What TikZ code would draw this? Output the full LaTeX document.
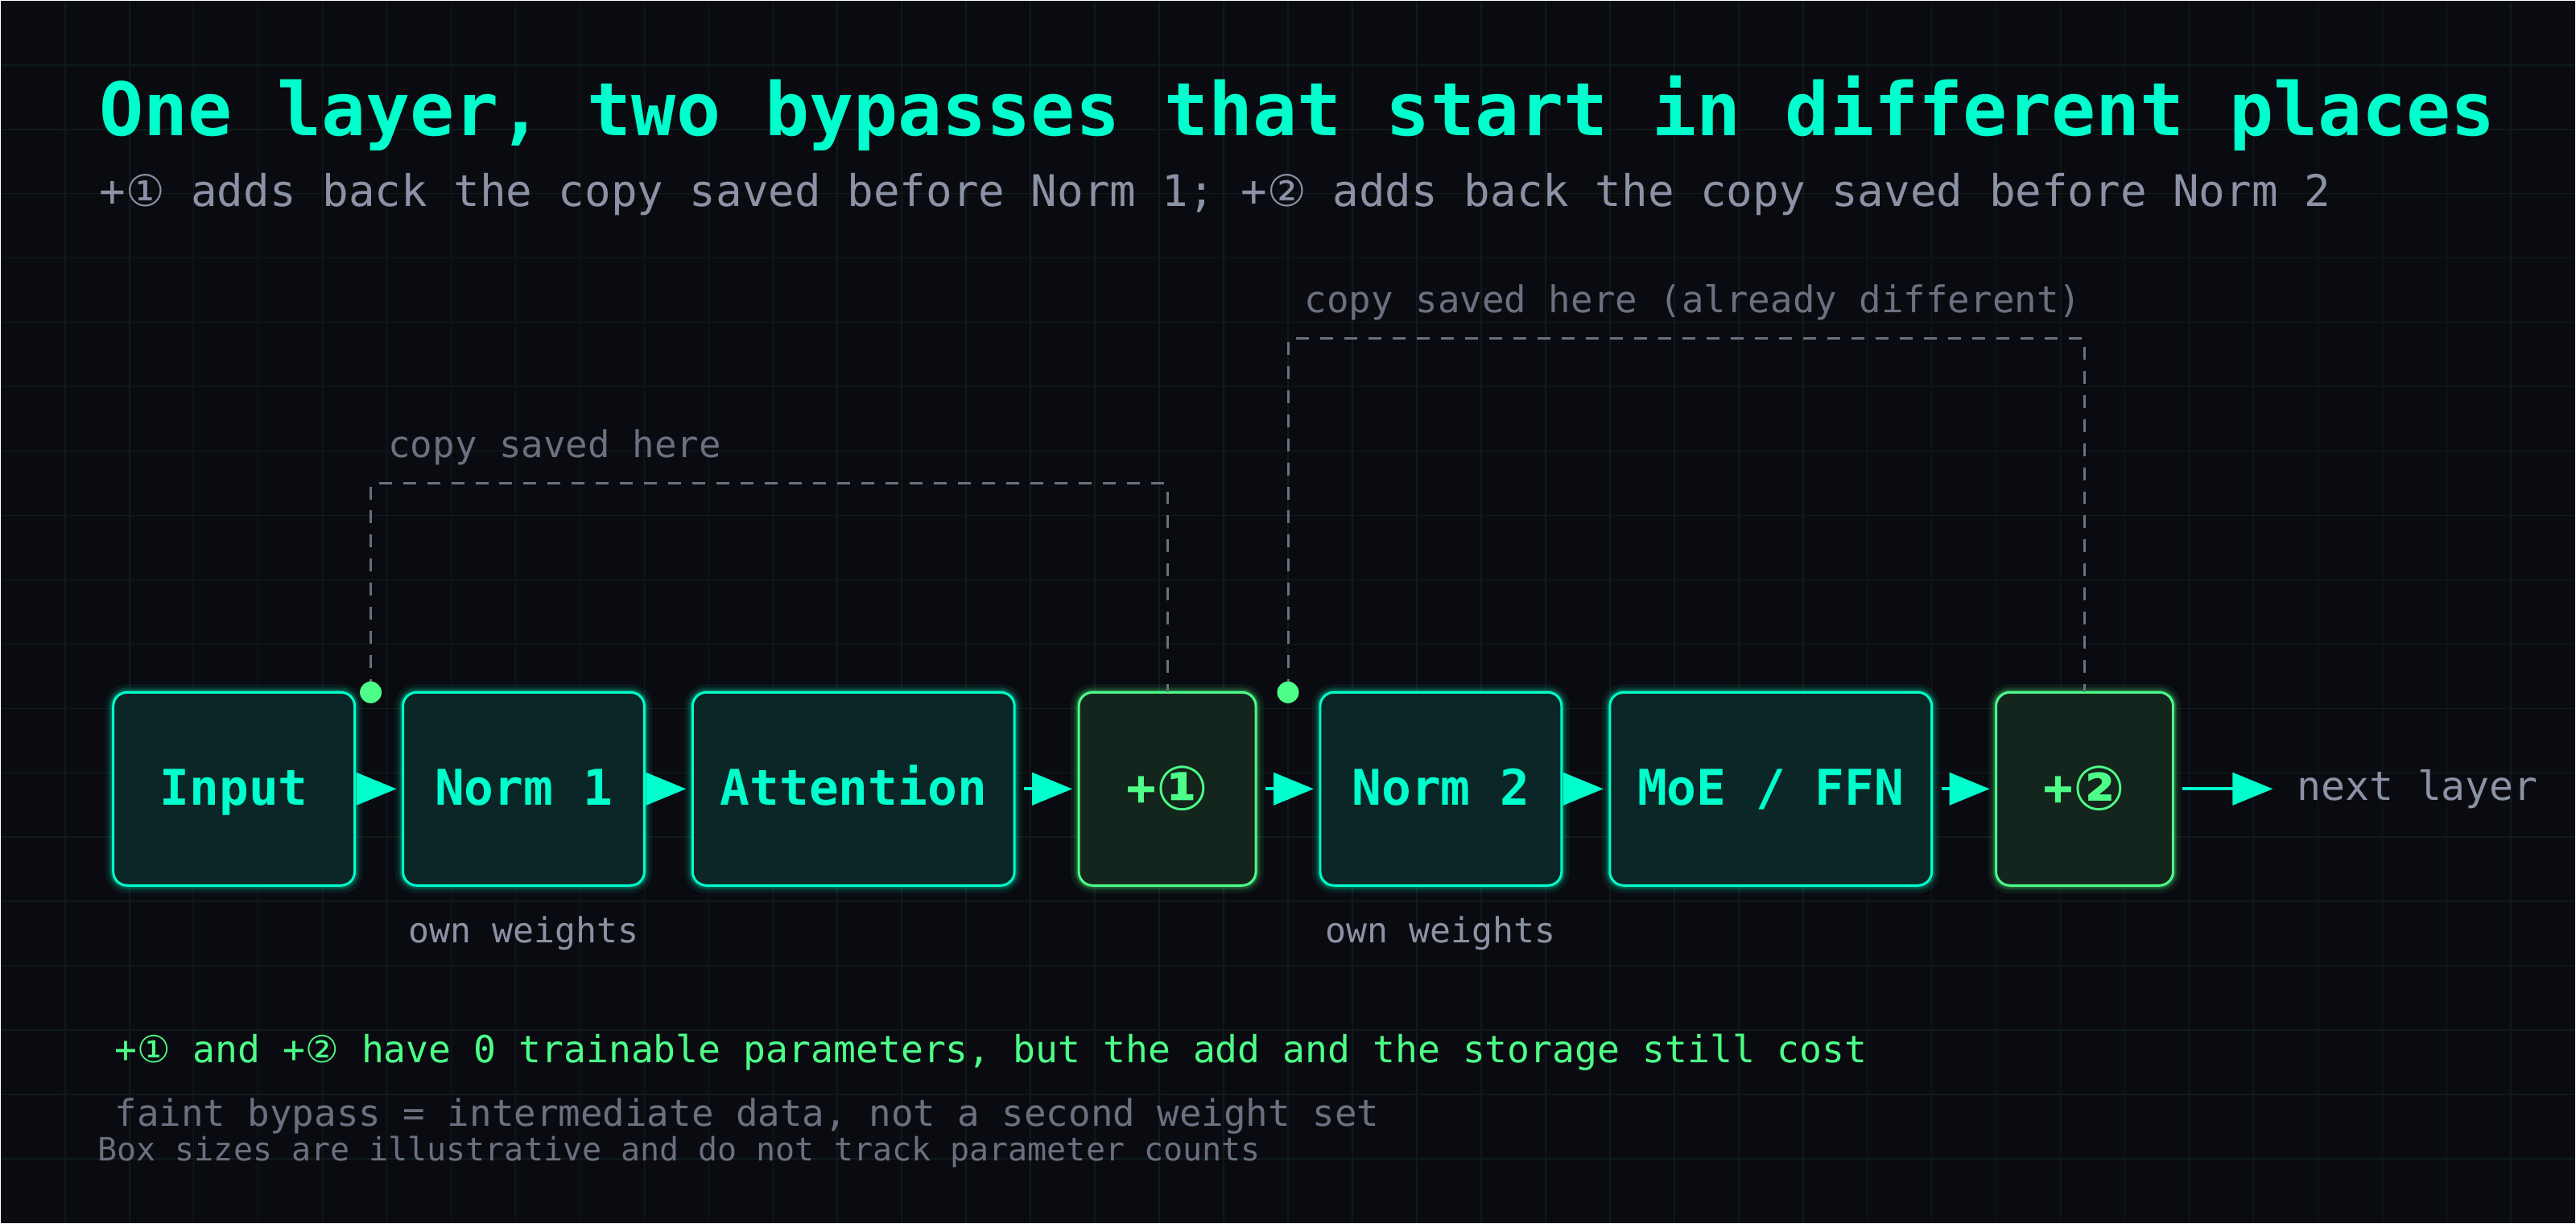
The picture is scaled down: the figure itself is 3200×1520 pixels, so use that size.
\documentclass[tikz,border=0pt]{standalone}
\usepackage{fontspec}
\setmainfont{DejaVu Sans Mono}
\newfontfamily\circfont{DejaVu Sans}
\usepackage{graphicx}
\usepackage{tikz}
\usetikzlibrary{calc}
\usetikzlibrary{positioning, arrows.meta}
\definecolor{bgdark}{HTML}{0A0B10}
\definecolor{gridteal}{HTML}{0E1B1B}
\definecolor{aqua}{HTML}{00FFCC}
\definecolor{mint}{HTML}{4DFF88}
\definecolor{aquafill}{HTML}{0B2626}
\definecolor{mintfill}{HTML}{13251C}
\definecolor{slate}{HTML}{8B92A5}
\definecolor{dimgray}{HTML}{6B7080}
\newcommand{\cone}{{\circfont ①}}
\newcommand{\ctwo}{{\circfont ②}}
\newcommand{\bigcone}{\raisebox{-0.1em}{\scalebox{1.25}{\cone}}}
\newcommand{\bigctwo}{\raisebox{-0.1em}{\scalebox{1.25}{\ctwo}}}

\begin{document}
\begin{tikzpicture}[x=0.25pt, y=-0.25pt,
			blockStyle/.style={rounded corners=4.25pt, line width=0.75pt, minimum height=60pt, inner sep=0pt, outer sep=0pt, align=center, text height=12pt, text depth=2pt, font=\fontsize{15.3pt}{18pt}\selectfont\bfseries},
			block/.style={blockStyle, draw=aqua, fill=aquafill, text=aqua, preaction={draw=aqua, line width=5pt, draw opacity=0.07}, preaction={draw=aqua, line width=3pt, draw opacity=0.12}, preaction={draw=aqua, line width=1.8pt, draw opacity=0.2}},
			addBlock/.style={blockStyle, draw=mint, fill=mintfill, text=mint, minimum width=55pt, preaction={draw=mint, line width=5pt, draw opacity=0.07}, preaction={draw=mint, line width=3pt, draw opacity=0.12}, preaction={draw=mint, line width=1.8pt, draw opacity=0.2}},
			flow/.style={-{Triangle[length=12.5pt, width=10pt]}, line width=1pt, aqua, shorten <=3pt, shorten >=2pt},
			bypass/.style={dimgray, line width=0.75pt, dash pattern=on 4pt off 3.5pt},
			saveDot/.style={circle, fill=mint, minimum size=6.75pt, inner sep=0pt},
			gridLine/.style={gridteal, line width=0.4pt},
			noteStyle/.style={inner sep=0pt, text=slate},]
			
			\fill[bgdark] (0,0) rectangle (3200,1520);
			\foreach \gx in {80,160,...,3120}
			\draw[gridLine] (\gx,0) -- (\gx,1520);
			\foreach \gy in {80,160,...,1440}
			\draw[gridLine] (0,\gy) -- (3200,\gy);
			
			% title
			\node[anchor=base west, inner sep=0pt, text=aqua, font=\fontsize{22.9pt}{26pt}\selectfont\bfseries] (title) at (122,168) {One layer, two bypasses that start in different places};
			\node[anchor=base west, noteStyle, font=\fontsize{13.55pt}{16pt}\selectfont] (subtitle) at (122,256) {+\cone{} adds back the copy saved before Norm 1; +\ctwo{} adds back the copy saved before Norm 2};
			
			% layer
			\node[block, minimum width=75pt] (input) at (290,980) {Input};
			\node[block, minimum width=75pt, right=15pt of input] (norm1) {Norm 1};
			\node[block, minimum width=100pt, right=15pt of norm1] (attn) {Attention};
			\node[addBlock, right=20pt of attn] (add1) {+\bigcone};
			\node[block, minimum width=75pt, right=20pt of add1] (norm2) {Norm 2};
			\node[block, minimum width=100pt, right=15pt of norm2] (moe) {MoE / FFN};
			\node[addBlock, right=20pt of moe] (add2) {+\bigctwo};
			\node[noteStyle, right=38.25pt of add2, font=\fontsize{12.45pt}{15pt}\selectfont] (next) {next layer};
			
			\foreach \a/\b in {input/norm1, norm1/attn, attn/add1, add1/norm2, norm2/moe, moe/add2}
			\draw[flow] (\a) -- (\b);
			\draw[flow, shorten >=7.25pt] (add2) -- (next);
			
			\node[noteStyle, below=9.5pt of norm1, font=\fontsize{10.8pt}{13pt}\selectfont] (own1) {own weights};
			\node[noteStyle, below=9.5pt of norm2, font=\fontsize{10.8pt}{13pt}\selectfont] (own2) {own weights};
			
			% bypasses
			\coordinate (save1) at ($(input.north east)+(5pt,0)$);
			\coordinate (save2) at ($(add1.north east)!0.5!(norm2.north west)$);
			\coordinate (top1) at ($(save1)+(0,65pt)$);
			\coordinate (top2) at ($(save2)+(0,110pt)$);
			\draw[bypass] (save1) -- (top1) -| (add1.north);
			\draw[bypass] (save2) -- (top2) -| (add2.north);
			\node[saveDot] (dot1) at (save1) {};
			\node[saveDot] (dot2) at (save2) {};
			\node[anchor=base west, inner sep=0pt, text=dimgray, font=\fontsize{11.45pt}{14pt}\selectfont] (copy1) at ($(top1)+(5.25pt,8pt)$) {copy saved here};
			\node[anchor=base west, inner sep=0pt, text=dimgray, font=\fontsize{11.45pt}{14pt}\selectfont] (copy2) at ($(top2)+(5pt,8pt)$) {copy saved here (already different)};
			
			% notes
			\node[anchor=base west, inner sep=0pt, text=mint, font=\fontsize{11.6pt}{14pt}\selectfont] (cost) at (141,1320) {+\cone{} and +\ctwo{} have 0 trainable parameters, but the add and the storage still cost};
			\node[anchor=base west, inner sep=0pt, text=dimgray, font=\fontsize{11.45pt}{14pt}\selectfont] (faint) at (141,1399) {faint bypass = intermediate data, not a second weight set};
			\node[anchor=base west, inner sep=0pt, text=dimgray, font=\fontsize{10pt}{12pt}\selectfont] (sizes) at (120,1442) {Box sizes are illustrative and do not track parameter counts};
		\end{tikzpicture}
\end{document}
